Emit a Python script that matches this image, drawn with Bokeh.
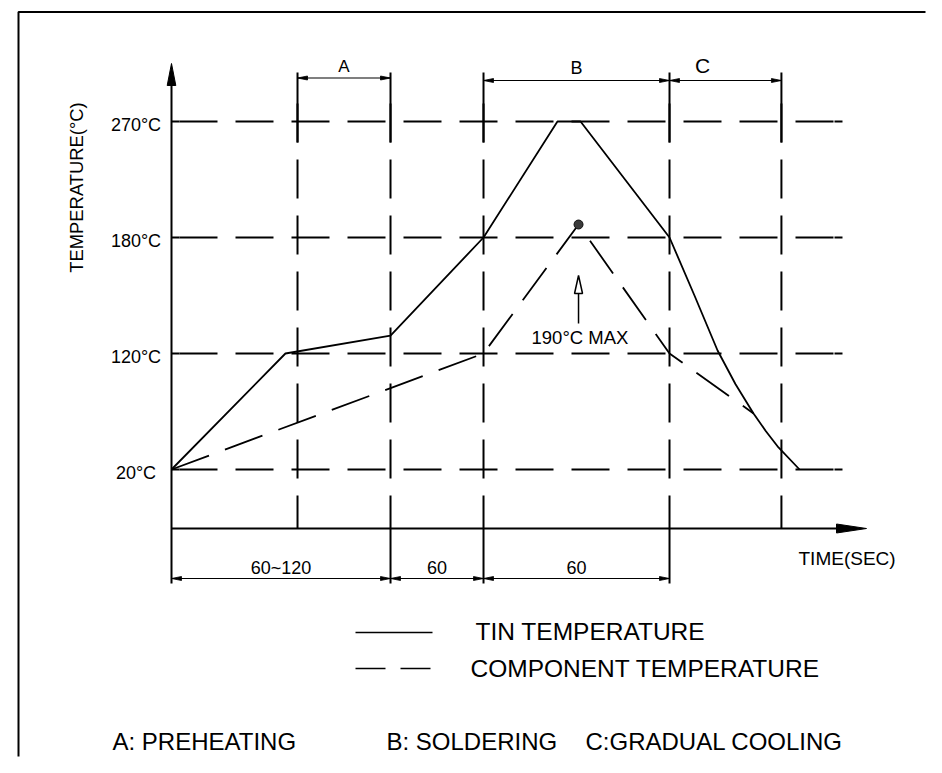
import math
from bokeh.plotting import figure
from bokeh.models import Range1d
from bokeh.core.properties import value
from bokeh.embed import file_html
from bokeh.resources import INLINE

# ---------------- data (schematic: time in drawing-seconds, temperature as equally spaced levels) ----
level_labels = ["20°C", "120°C", "180°C", "270°C"]
levels = [0, 1, 2, 3]

tin_time = [0, 73.5, 141.3, 201.3, 249.0, 263.9, 321.3, 337.4, 352.3, 363.9, 375.5, 383.5, 391.6, 405.2]
tin_level = [0, 1.0, 1.155, 2.0, 3.0, 3.0, 2.0, 1.5, 1.026, 0.735, 0.483, 0.33, 0.19, 0.0]

comp_time = [0, 201.3, 262.6, 321.3, 375.5]
comp_level = [0, 1.0, 2.112, 1.0, 0.483]

peak_time = 262.6
peak_level = 2.112
peak_label = "190°C  MAX"

phase_bounds = [81.3, 141.3, 201.3, 321.3, 393.5]
phase_names = ["A", "B", "C"]
phase_start = [81.3, 201.3, 321.3]
phase_end = [141.3, 321.3, 393.5]
phase_label_x = [111.3, 261.3, 342.6]

dur_start = [0, 141.3, 201.3]
dur_end = [141.3, 201.3, 321.3]
dur_labels = ["60~120", "60", "60"]

grid_end_time = 432.9
legend_labels = ["TIN TEMPERATURE", "COMPONENT TEMPERATURE"]
notes = ["A: PREHEATING", "B: SOLDERING", "C:GRADUAL COOLING"]
x_title = "TIME(SEC)"
y_title = "TEMPERATURE(°C)"

# ---------------- layout helpers (picture pixel -> data) ----------------
W, H = 926, 757
OFF = 0                    # picture offset of the canvas
SX, SY = 1.55, 116.0       # px per time unit, px per level
X0, Y0 = 171.0, 469.0      # picture px of time 0 / level 0


def tx(px):
    return (px - X0) / SX


def ly(py):
    return (Y0 - py) / SY


FONT = value("Liberation Sans")
INK = "#000000"

p = figure(width=W, height=H, x_range=Range1d(tx(OFF), tx(OFF + W)), y_range=Range1d(ly(OFF + H), ly(OFF)),
           x_axis_location=None, y_axis_location=None, toolbar_location=None,
           output_backend="svg", min_border=0)
p.outline_line_color = None
p.grid.visible = False
p.background_fill_color = "white"
p.border_fill_color = "white"


def head(x, y, direction, length, hw):
    if direction == "right":
        bx = x - length / SX
        return [x, bx, bx], [y, y + hw / SY, y - hw / SY]
    if direction == "left":
        bx = x + length / SX
        return [x, bx, bx], [y, y + hw / SY, y - hw / SY]
    if direction == "up":
        by = y - length / SY
        return [x, x - hw / SX, x + hw / SX], [y, by, by]
    by = y + length / SY
    return [x, x - hw / SX, x + hw / SX], [y, by, by]


# ---------------- outer frame border (top + left; right/bottom lie outside the picture) ----------------
p.line([tx(OFF + W - 1), tx(18), tx(18)], [ly(11.5), ly(11.5), ly(OFF + H - 1)],
       line_color=INK, line_width=2)

# ---------------- horizontal dashed grid lines ----------------
pad = 8 / SX
g_x0 = [0] * len(levels)
g_x1 = [grid_end_time] * len(levels)
p.segment(x0=[pad] * len(levels), y0=levels, x1=[grid_end_time - pad] * len(levels), y1=levels,
          line_color=INK, line_width=2, line_dash="38 18")
p.segment(x0=g_x0, y0=levels, x1=[pad] * len(levels), y1=levels, line_color=INK, line_width=2)
p.segment(x0=[grid_end_time - pad] * len(levels), y0=levels, x1=g_x1, y1=levels, line_color=INK, line_width=2)

# ---------------- vertical phase lines ----------------
n = len(phase_bounds)
axis_level = ly(528)
p.segment(x0=phase_bounds, y0=[ly(72)] * n, x1=phase_bounds, y1=[ly(142)] * n, line_color=INK, line_width=2)
p.segment(x0=phase_bounds, y0=[ly(103)] * n, x1=phase_bounds, y1=[axis_level] * n,
          line_color=INK, line_width=2, line_dash="39 17")
ext = [b for b in phase_bounds if b in dur_end]
p.segment(x0=ext, y0=[axis_level] * len(ext), x1=ext, y1=[ly(583)] * len(ext), line_color=INK, line_width=2)

# ---------------- axes ----------------
p.segment(x0=[0, 0], y0=[ly(85), axis_level], x1=[0, tx(838)], y1=[ly(583), axis_level], line_color=INK, line_width=2)
ax_heads = [head(0, ly(63), "up", 22, 4.3), head(tx(866), axis_level, "right", 30, 4.5)]
p.patches(xs=[h[0] for h in ax_heads], ys=[h[1] for h in ax_heads], fill_color=INK, line_color=INK, line_width=1)

# ---------------- curves ----------------
p.line(tin_time, tin_level, line_color=INK, line_width=1.8)
p.line(comp_time, comp_level, line_color=INK, line_width=1.8, line_dash="40 17")
p.scatter([peak_time], [peak_level], size=9, fill_color="#3a3a3a", line_color="#111111", line_width=1)

# peak annotation arrow (open head)
pk_head = head(peak_time, ly(275), "up", 18, 4)
p.patch(pk_head[0], pk_head[1], fill_color="white", line_color=INK, line_width=1.5)
p.segment(x0=[peak_time], y0=[ly(293)], x1=[peak_time], y1=[ly(323)], line_color=INK, line_width=1.5)
p.text(x=[peak_time], y=[ly(337)], text=[peak_label], x_offset=4, text_align="center", text_baseline="middle",
       text_font=FONT, text_font_size=value("18.5px"), text_color=INK)

# ---------------- dimension lines ----------------
dim_top_y = [ly(77.5), ly(80), ly(80)]
dim_bot_y = ly(578)
p.segment(x0=phase_start, y0=dim_top_y, x1=phase_end, y1=dim_top_y, line_color=INK, line_width=1.2)
p.segment(x0=dur_start, y0=[dim_bot_y] * 3, x1=dur_end, y1=[dim_bot_y] * 3, line_color=INK, line_width=1.2)
hx, hy = [], []
for s, e, yy in list(zip(phase_start, phase_end, dim_top_y)) + [(s, e, dim_bot_y) for s, e in zip(dur_start, dur_end)]:
    for hh in (head(s, yy, "left", 10, 2), head(e, yy, "right", 10, 2)):
        hx.append(hh[0])
        hy.append(hh[1])
p.patches(xs=hx, ys=hy, fill_color=INK, line_color=INK, line_width=0.8)

for name, xx, py, fs in zip(phase_names, phase_label_x, [66, 67, 65], ["17px", "18px", "21px"]):
    p.text(x=[xx], y=[ly(py)], text=[name], text_align="center", text_baseline="middle",
           text_font=FONT, text_font_size=value(fs), text_color=INK)

dur_mid = [(s + e) / 2 for s, e in zip(dur_start, dur_end)]
p.text(x=dur_mid, y=[ly(567)] * 3, text=dur_labels, text_align="center", text_baseline="middle",
       text_font=FONT, text_font_size=value("18px"), text_color=INK)

# ---------------- tick labels & titles ----------------
p.text(x=[tx(135.5)] * len(levels), y=levels, text=level_labels, y_offset=3.5, text_align="center",
       text_baseline="middle", text_font=FONT, text_font_size=value("18px"), text_color=INK)
p.text(x=[tx(75.8)], y=[ly(187)], text=[y_title], angle=math.pi / 2, text_align="center", text_baseline="middle",
       text_font=FONT, text_font_size=value("18.4px"), text_color=INK)
p.text(x=[tx(798)], y=[ly(558)], text=[x_title], text_align="left", text_baseline="middle",
       text_font=FONT, text_font_size=value("19px"), text_color=INK)

# ---------------- legend ----------------
p.line([tx(355), tx(432)], [ly(632), ly(632)], line_color=INK, line_width=1.5)
p.line([tx(355), tx(432)], [ly(668), ly(668)], line_color=INK, line_width=1.5, line_dash="30 15")
p.text(x=[tx(475), tx(470)], y=[ly(631), ly(668)], text=legend_labels, text_align="left", text_baseline="middle",
       text_font=FONT, text_font_size=value("24.5px"), text_color=INK)

# ---------------- notes ----------------
p.text(x=[tx(112), tx(386), tx(585)], y=[ly(741)] * 3, text=notes, text_align="left", text_baseline="middle",
       text_font=FONT, text_font_size=value("24px"), text_color=INK)

open("out.html", "w").write(file_html(p, INLINE))
